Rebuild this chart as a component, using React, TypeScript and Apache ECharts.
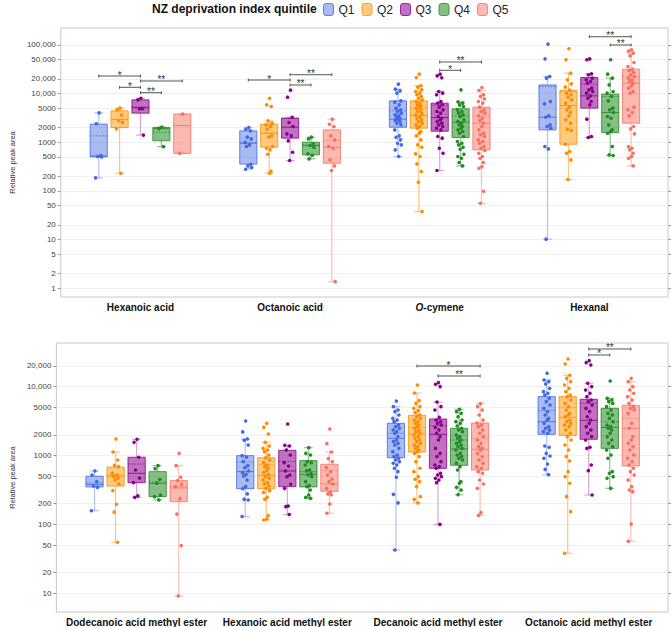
import React, { useEffect, useRef } from 'react';
import * as echarts from 'echarts';

const FONT = '"Liberation Sans", Arial, Helvetica, sans-serif';

const quintiles = ['Q1', 'Q2', 'Q3', 'Q4', 'Q5'];
const pointColors = ['#4169E1', '#FF8C00', '#8B008B', '#228B22', '#FA7060'];
const fillColors = ['rgba(65,105,225,0.45)', 'rgba(255,150,0,0.5)', 'rgba(139,0,139,0.55)', 'rgba(34,139,34,0.55)', 'rgba(250,128,114,0.55)'];
const edgeColors = ['rgba(65,105,225,0.8)', 'rgba(255,140,0,0.8)', 'rgba(139,0,139,0.8)', 'rgba(34,139,34,0.8)', 'rgba(250,112,96,0.8)'];
const whiskerColors = ['rgba(65,105,225,0.4)', 'rgba(255,140,0,0.5)', 'rgba(139,0,139,0.35)', 'rgba(34,139,34,0.5)', 'rgba(250,112,96,0.45)'];

const topCompounds = ['Hexanoic acid', 'Octanoic acid', 'O-cymene', 'Hexanal'];
const bottomCompounds = ['Dodecanoic acid methyl ester', 'Hexanoic acid methyl ester', 'Decanoic acid methyl ester', 'Octanoic acid methyl ester'];

const topTicks = [1, 2, 5, 10, 20, 50, 100, 200, 500, 1000, 2000, 5000, 10000, 20000, 50000, 100000];
const bottomTicks = [10, 20, 50, 100, 200, 500, 1000, 2000, 5000, 10000, 20000];

// box stats per quintile: [lower whisker, Q1, median, Q3, upper whisker, mean]
const hexanoicAcidBox = [
  [185, 500, 520, 2350, 4000, 1350],
  [230, 2000, 2950, 4400, 5000, 2900],
  [1400, 3950, 5100, 7400, 8000, 5300],
  [810, 1070, 1900, 2000, 2050, 1600],
  [590, 590, 2200, 3800, 3800, 2200],
];
const hexanoicAcidPoints = [
  [4000, 2400, 530, 510, 500, 185],
  [5000, 4600, 3600, 2750, 2550, 1880, 230],
  [8000, 7400, 4900, 4850, 1400],
  [2050, 1900, 810],
  [3800, 590],
];

const octanoicAcidBox = [
  [280, 355, 950, 1710, 2000, 1000],
  [230, 790, 1510, 2350, 2740, 1600],
  [420, 1210, 2030, 3110, 3260, 3100],
  [455, 550, 855, 1000, 1270, 880],
  [1.37, 370, 790, 1790, 2970, 1100],
];
const octanoicAcidPoints = [
  [2000, 1850, 1710, 1270, 1170, 990, 880, 815, 353, 326, 302, 279],
  [8000, 5850, 5400, 2740, 2460, 2270, 2100, 1850, 1350, 1270, 815, 753, 695, 566, 254, 231],
  [11700, 8400, 3260, 2540, 2100, 1480, 1350, 1065, 623, 420],
  [1270, 1170, 925, 855, 790, 575, 540, 455],
  [2970, 2340, 2100, 1350, 1117, 815, 753, 433, 326, 262, 1.37],
];

const oCymeneBox = [
  [508, 2030, 2970, 7060, 12300, 4400],
  [37.6, 1940, 3530, 7060, 14400, 5000],
  [262, 1680, 3210, 6330, 11000, 5760],
  [326, 1250, 2580, 4840, 6740, 3440],
  [55.8, 696, 2460, 5240, 11530, 3440],
];
const oCymenePoints = [
  [15550, 12270, 11350, 10160, 7060, 6640, 5850, 5000, 4620, 4270, 3950, 3650, 3470, 3260, 3110, 2970, 2790, 2660, 2460, 2270, 1790, 1350, 1267, 1117, 953, 880, 695, 508],
  [24950, 21300, 14400, 13500, 11900, 11000, 10160, 9400, 8670, 8000, 7410, 6850, 6330, 5850, 5580, 5240, 4920, 4620, 4270, 3950, 3650, 3370, 3110, 2880, 2660, 2460, 2270, 2100, 1940, 1660, 1530, 1350, 1117, 880, 790, 575, 508, 359, 250, 151, 37.6],
  [24950, 23060, 21000, 11000, 10160, 9400, 6850, 6330, 5850, 5240, 4620, 4270, 3950, 3370, 3110, 2880, 2660, 2460, 2270, 2100, 1940, 1790, 1307, 1210, 753, 594, 262],
  [11900, 6740, 6330, 5850, 5400, 4620, 4270, 3950, 3650, 3370, 2880, 2660, 2460, 2270, 2100, 1940, 1790, 1660, 1530, 1307, 1032, 953, 880, 790, 718, 566, 508, 469, 382, 326],
  [13280, 11530, 9400, 8670, 7760, 6850, 6330, 5240, 4620, 4270, 3950, 3470, 3110, 2790, 2460, 2100, 1790, 1530, 1415, 1307, 1117, 1032, 953, 815, 753, 674, 594, 508, 469, 382, 316, 292, 98.5, 55.8],
];

const hexanalBox = [
  [10.2, 1790, 3260, 15000, 22300, 13900],
  [171, 910, 5670, 11700, 26200, 11000],
  [1250, 5000, 8950, 21300, 25400, 15500],
  [532, 1580, 4070, 9690, 20700, 8700],
  [326, 2460, 16300, 31600, 67500, 22300],
];
const hexanalPoints = [
  [103000, 51500, 22340, 20650, 6850, 6140, 3470, 3260, 2270, 2100, 1940, 815, 729, 10.2],
  [82800, 49200, 26200, 19100, 15800, 13500, 11700, 10160, 9400, 8400, 7410, 6330, 5240, 4620, 4070, 3470, 2880, 2460, 1850, 1740, 910, 643, 594, 433, 171],
  [51500, 49200, 25350, 24200, 20650, 19100, 17650, 16300, 12880, 11900, 11000, 10160, 8950, 8000, 6850, 5850, 2970, 1307, 1250],
  [49200, 24950, 20650, 15070, 11000, 10160, 8670, 7060, 5000, 4620, 4070, 3370, 3110, 2270, 1790, 1660, 1530, 815, 549, 532],
  [78900, 74100, 67500, 59400, 43300, 35900, 31600, 29700, 27000, 24200, 22340, 20650, 19100, 17650, 16300, 14400, 12880, 11000, 10160, 5240, 4620, 4070, 3470, 2100, 1880, 1480, 815, 753, 695, 594, 508, 469, 326],
];

const dodecanoicMeBox = [
  [158, 350, 380, 500, 597, 400],
  [55, 360, 500, 680, 1125, 520],
  [247, 404, 552, 943, 1720, 754],
  [226, 253, 395, 583, 713, 415],
  [9.15, 214, 338, 432, 713, 355],
];
const dodecanoicMePoints = [
  [597, 521, 418, 361, 345, 158],
  [1740, 1125, 861, 720, 689, 552, 521, 493, 467, 441, 386, 309, 196, 151, 55],
  [1720, 1555, 942, 617, 472, 404, 259, 247],
  [713, 645, 452, 395, 267, 253, 226],
  [1076, 713, 483, 432, 382, 353, 237, 141, 49.2, 9.15],
];

const hexanoicMeBox = [
  [130, 330, 583, 995, 1740, 805],
  [116, 330, 516, 930, 1557, 736],
  [139, 353, 597, 1190, 1406, 823],
  [239, 350, 533, 843, 1300, 583],
  [145, 302, 387, 745, 1125, 603],
];
const hexanoicMePoints = [
  [3170, 2200, 1740, 1662, 1423, 998, 942, 815, 713, 667, 597, 564, 533, 505, 441, 353, 330, 277, 231, 226, 130],
  [2930, 2565, 2055, 1555, 1374, 1271, 1202, 1137, 1018, 930, 861, 788, 729, 689, 652, 603, 564, 527, 493, 467, 441, 404, 386, 361, 334, 309, 292, 247, 231, 134, 120, 116],
  [2870, 1406, 1374, 1202, 1018, 788, 705, 597, 521, 493, 382, 334, 185, 181, 139],
  [1300, 1076, 1018, 815, 788, 729, 617, 597, 552, 521, 493, 418, 366, 353, 316, 267, 247, 239],
  [2427, 1486, 1125, 901, 815, 667, 583, 521, 452, 418, 386, 334, 296, 277, 270, 198, 145],
];

const decanoicMeBox = [
  [42.6, 930, 1780, 2930, 5120, 2100],
  [205, 1125, 2050, 3830, 8090, 2560],
  [100, 651, 2030, 3390, 5980, 2710],
  [270, 721, 1245, 2480, 4690, 1680],
  [135, 616, 1230, 2960, 5660, 1780],
];
const decanoicMePoints = [
  [6190, 5120, 4580, 4330, 3870, 3465, 3280, 3100, 2775, 2625, 2483, 2350, 2220, 2100, 1880, 1680, 1590, 1503, 1423, 1271, 1137, 1018, 964, 911, 861, 815, 771, 729, 652, 583, 483, 273, 205, 42.6],
  [10570, 8090, 6260, 5720, 5120, 4840, 4480, 4190, 3870, 3660, 3465, 3280, 3100, 2930, 2775, 2625, 2483, 2350, 2220, 2100, 1987, 1880, 1778, 1680, 1590, 1503, 1423, 1346, 1271, 1202, 1137, 1076, 964, 815, 652, 583, 493, 452, 418, 353, 253, 231, 205],
  [11430, 10800, 10000, 5980, 5120, 4580, 3580, 3280, 3100, 2930, 2775, 2565, 2350, 2100, 1880, 1680, 1271, 1076, 964, 815, 729, 689, 652, 552, 521, 493, 467, 441, 404, 100],
  [4690, 4330, 4090, 3660, 3280, 3100, 2930, 2685, 2483, 2350, 2220, 1987, 1880, 1778, 1680, 1590, 1503, 1423, 1346, 1271, 1202, 1076, 1018, 964, 911, 861, 771, 689, 617, 418, 395, 345, 316, 270],
  [5660, 5120, 4580, 3870, 3280, 2965, 2775, 2625, 2350, 2100, 1880, 1680, 1503, 1346, 1271, 1202, 1076, 964, 861, 771, 689, 652, 583, 552, 441, 386, 334, 148, 135],
];

const octanoicMeBox = [
  [527, 2030, 3100, 7150, 12500, 4480],
  [38.1, 1960, 3580, 7150, 14600, 4950],
  [267, 1720, 3240, 6550, 11200, 5730],
  [334, 1270, 2560, 4840, 6760, 3100],
  [56.9, 705, 2480, 5360, 11800, 3470],
];
const octanoicMePoints = [
  [15600, 12470, 11800, 10920, 9440, 8450, 8000, 7560, 6760, 6050, 5410, 4840, 4330, 3870, 3465, 3280, 2930, 2625, 2483, 2350, 2220, 2100, 1374, 1315, 1076, 985, 911, 754, 630, 527],
  [25200, 21300, 14590, 13190, 11800, 10570, 9440, 8450, 7560, 7150, 6400, 5720, 5120, 4580, 4090, 3870, 3660, 3280, 3100, 2930, 2775, 2625, 2350, 2100, 1880, 1680, 1423, 1202, 964, 834, 583, 493, 395, 253, 153, 38.1],
  [23800, 22300, 20600, 11170, 10000, 8930, 8000, 7150, 6400, 6050, 5410, 4840, 4330, 3660, 3280, 2930, 2625, 2350, 2100, 1880, 1680, 1315, 1271, 729, 603, 267],
  [12080, 6760, 6400, 6050, 5720, 5120, 4580, 4090, 3870, 3465, 3100, 2775, 2625, 2483, 2350, 2100, 1880, 1680, 1503, 1346, 1202, 1018, 911, 583, 552, 493, 467, 334],
  [13190, 11800, 10000, 8930, 8000, 7150, 6400, 5720, 5120, 4840, 4580, 4090, 2930, 2483, 1880, 1680, 1503, 1346, 1202, 1018, 911, 815, 729, 652, 583, 521, 441, 353, 316, 299, 101, 56.9],
];

// significance brackets: [compound index, from quintile, to quintile, height value, label]
const topSignificance: [number, number, number, number, string][] = [
  [0, 0, 2, 22860, '*'],
  [0, 1, 2, 13400, '*'],
  [0, 2, 4, 18070, '**'],
  [0, 2, 3, 10380, '**'],
  [1, 0, 2, 18920, '*'],
  [1, 2, 4, 24320, '**'],
  [1, 2, 3, 14960, '**'],
  [2, 2, 4, 44360, '**'],
  [2, 2, 3, 29920, '*'],
  [3, 2, 4, 146600, '**'],
  [3, 3, 4, 99080, '**'],
];
const bottomSignificance: [number, number, number, number, string][] = [
  [2, 1, 4, 19910, '*'],
  [2, 2, 4, 14260, '**'],
  [3, 2, 4, 35160, '**'],
  [3, 2, 3, 28770, '*'],
];

const topBoxes = [hexanoicAcidBox, octanoicAcidBox, oCymeneBox, hexanalBox];
const topPoints = [hexanoicAcidPoints, octanoicAcidPoints, oCymenePoints, hexanalPoints];
const bottomBoxes = [dodecanoicMeBox, hexanoicMeBox, decanoicMeBox, octanoicMeBox];
const bottomPoints = [dodecanoicMePoints, hexanoicMePoints, decanoicMePoints, octanoicMePoints];

// layout constants (in x units: 1 unit = spacing between neighbouring quintile boxes)
const SPACING = 7.163;
const X_EXTENT = [-3.814, 25.256];
const TOP_LOG_EXTENT = [-0.1786, 5.345];
const BOTTOM_LOG_EXTENT = [0.7286, 4.633];
const BOX_W = 0.82;
const CAP_W = 0.42;
const JITTER = [0.02, -0.12, 0.1, -0.05, 0.14, -0.15, 0.06, -0.09, 0.12, -0.02, 0.16, -0.13, 0.04, -0.07, 0.09];

function fmtTick(v: number) {
  const n = Math.round(Math.pow(10, v));
  return n >= 10000 ? n.toLocaleString('en-US') : String(n);
}

function boxSeries(panel: number, q: number, boxes: number[][][], points: number[][][]) {
  return {
    type: 'custom',
    name: quintiles[q],
    xAxisIndex: panel,
    yAxisIndex: panel * 3,
    silent: true,
    clip: false,
    encode: { x: 0, y: [1, 2, 3, 4, 5, 6] },
    data: boxes.map((b, i) => [i * SPACING + (q - 2), ...b[q]]),
    renderItem: (params: any, api: any) => {
      const x = api.value(0);
      const lo = api.value(1), q1 = api.value(2), med = api.value(3), q3 = api.value(4), hi = api.value(5), mean = api.value(6);
      const yOf = (v: number) => api.coord([x, v])[1];
      const cx = api.coord([x, med])[0];
      const hw = api.coord([x + BOX_W / 2, med])[0] - cx;
      const cw = api.coord([x + CAP_W / 2, med])[0] - cx;
      const yLo = yOf(lo), yQ1 = yOf(q1), yMed = yOf(med), yQ3 = yOf(q3), yHi = yOf(hi), yMean = yOf(mean);
      const wStyle = { stroke: whiskerColors[q], lineWidth: 1.2 };
      const children: any[] = [
        { type: 'line', shape: { x1: cx, y1: yLo, x2: cx, y2: yQ1 }, style: wStyle },
        { type: 'line', shape: { x1: cx, y1: yQ3, x2: cx, y2: yHi }, style: wStyle },
        { type: 'line', shape: { x1: cx - cw, y1: yLo, x2: cx + cw, y2: yLo }, style: wStyle },
        { type: 'line', shape: { x1: cx - cw, y1: yHi, x2: cx + cw, y2: yHi }, style: wStyle },
        {
          type: 'rect',
          shape: { x: cx - hw, y: yQ3, width: hw * 2, height: yQ1 - yQ3 },
          style: { fill: fillColors[q], stroke: edgeColors[q], lineWidth: 1 },
        },
        { type: 'line', shape: { x1: cx - hw, y1: yMed, x2: cx + hw, y2: yMed }, style: { stroke: edgeColors[q], lineWidth: 1 } },
        { type: 'line', shape: { x1: cx - hw, y1: yMean, x2: cx + hw, y2: yMean }, style: { stroke: edgeColors[q], lineWidth: 1, lineDash: [1.5, 1.5] } },
      ];
      const pts = points[params.dataIndex][q];
      pts.forEach((v, k) => {
        const p = api.coord([x + JITTER[k % JITTER.length], v]);
        children.push({ type: 'circle', shape: { cx: p[0], cy: p[1], r: 1.8 }, style: { fill: pointColors[q] } });
      });
      return { type: 'group', children };
    },
  };
}

function sigSeries(panel: number, sig: [number, number, number, number, string][]) {
  return {
    type: 'custom',
    xAxisIndex: panel,
    yAxisIndex: panel * 3,
    silent: true,
    clip: false,
    itemStyle: { color: '#333' },
    encode: { x: [0, 1], y: 2 },
    data: sig.map((s) => [s[0] * SPACING + s[1] - 2, s[0] * SPACING + s[2] - 2, s[3]]),
    renderItem: (params: any, api: any) => {
      const p1 = api.coord([api.value(0), api.value(2)]);
      const p2 = api.coord([api.value(1), api.value(2)]);
      const st = { stroke: '#555', lineWidth: 1 };
      return {
        type: 'group',
        children: [
          { type: 'line', shape: { x1: p1[0], y1: p1[1], x2: p2[0], y2: p2[1] }, style: st },
          { type: 'line', shape: { x1: p1[0], y1: p1[1] - 1.5, x2: p1[0], y2: p1[1] + 1.5 }, style: st },
          { type: 'line', shape: { x1: p2[0], y1: p2[1] - 1.5, x2: p2[0], y2: p2[1] + 1.5 }, style: st },
          {
            type: 'text',
            x: (p1[0] + p2[0]) / 2,
            y: p1[1] + 4,
            style: {
              text: sig[params.dataIndex][4], fill: '#333', stroke: 'none', lineWidth: 0,
              fontSize: 10, fontFamily: FONT, align: 'center', verticalAlign: 'bottom',
            },
          },
        ],
      };
    },
  };
}

function yAxes(gridIndex: number, ticks: number[], ext: number[]) {
  const logTicks = ticks.map((t) => Math.log10(t));
  return [
    { type: 'log', gridIndex, min: Math.pow(10, ext[0]), max: Math.pow(10, ext[1]), show: false },
    {
      type: 'value', gridIndex, position: 'left', min: ext[0], max: ext[1],
      axisLine: { show: false },
      axisTick: { show: true, length: 3, customValues: logTicks, lineStyle: { color: '#999' } },
      axisLabel: { show: true, customValues: logTicks, formatter: fmtTick, fontSize: 8, color: '#444', margin: 5, fontFamily: FONT },
      splitLine: { show: true, lineStyle: { color: '#f0f0f0', width: 1 } },
      name: 'Relative peak area', nameLocation: 'middle', nameGap: 34,
      nameTextStyle: { fontSize: 7.5, color: '#333', fontFamily: FONT },
    },
    {
      type: 'value', gridIndex, position: 'right', min: ext[0], max: ext[1],
      axisLine: { show: false },
      axisTick: { show: true, length: 3, customValues: logTicks, lineStyle: { color: '#999' } },
      axisLabel: { show: false },
      splitLine: { show: false },
    },
  ];
}

function xAxis(gridIndex: number, names: string[]) {
  return {
    type: 'value', gridIndex, min: X_EXTENT[0], max: X_EXTENT[1],
    axisLine: { show: false }, axisTick: { show: false }, splitLine: { show: false },
    axisLabel: {
      customValues: names.map((_, i) => i * SPACING),
      formatter: (v: number) => {
        const n = names[Math.round(v / SPACING)] || '';
        return n === 'O-cymene' ? '{it|O}-cymene' : n;
      },
      fontSize: 10, fontWeight: 'bold', color: '#111', margin: 5, fontFamily: FONT,
      rich: { it: { fontStyle: 'italic', fontWeight: 'bold', fontSize: 10, color: '#111', fontFamily: FONT } },
    },
  };
}

export default function App() {
  const ref = useRef<HTMLDivElement>(null);
  useEffect(() => {
    if (!ref.current) return;
    const chart = echarts.init(ref.current, undefined, { renderer: 'svg' });
    const series: any[] = [];
    [0, 1].forEach((panel) => {
      const boxes = panel === 0 ? topBoxes : bottomBoxes;
      const pts = panel === 0 ? topPoints : bottomPoints;
      quintiles.forEach((_, q) => series.push(boxSeries(panel, q, boxes, pts)));
    });
    series.push(sigSeries(0, topSignificance));
    series.push(sigSeries(1, bottomSignificance));
    chart.setOption({
      animation: false,
      backgroundColor: '#fff',
      textStyle: { fontFamily: FONT },
      title: {
        text: 'NZ deprivation index quintile', left: 152, top: 3, padding: 0,
        textStyle: { fontSize: 12, fontWeight: 'bold', color: '#111', fontFamily: FONT },
      },
      legend: {
        left: 323, top: 3, padding: 0, itemWidth: 10, itemHeight: 12, itemGap: 7, icon: 'roundRect',
        selectedMode: false,
        textStyle: { fontSize: 12, color: '#222', fontFamily: FONT },
        data: quintiles.map((q, i) => ({ name: q, itemStyle: { color: fillColors[i], borderColor: edgeColors[i], borderWidth: 1 } })),
      },
      grid: [
        { left: 43, right: 4, top: 28, height: 269, show: true, borderColor: '#c8c8c8', borderWidth: 1 },
        { left: 43, right: 4, top: 343, height: 269, show: true, borderColor: '#c8c8c8', borderWidth: 1 },
      ],
      xAxis: [xAxis(0, topCompounds), xAxis(1, bottomCompounds)],
      yAxis: [...yAxes(0, topTicks, TOP_LOG_EXTENT), ...yAxes(1, bottomTicks, BOTTOM_LOG_EXTENT)],
      series,
    });
    return () => chart.dispose();
  }, []);
  return <div ref={ref} style={{ position: 'absolute', left: 0, top: 0, width: 672, height: 627 }} />;
}
